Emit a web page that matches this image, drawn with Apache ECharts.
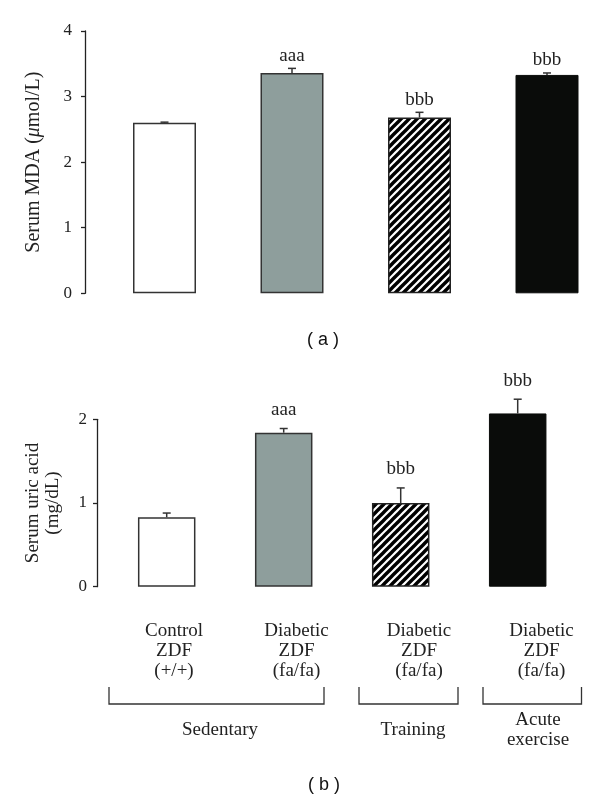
<!DOCTYPE html>
<html>
<head>
<meta charset="utf-8">
<script src="https://cdn.jsdelivr.net/npm/echarts@6/dist/echarts.min.js"></script>
<style>html,body{margin:0;padding:0;background:#fff}#c{width:600px;height:801px}</style>
</head>
<body>
<div id="c"></div>
<script>
var categories = ['Control\nZDF\n(+/+)', 'Diabetic\nZDF\n(fa/fa)', 'Diabetic\nZDF\n(fa/fa)', 'Diabetic\nZDF\n(fa/fa)'];
var groups = ['Sedentary', 'Training', 'Acute\nexercise'];
var mdaValues = [2.60, 3.36, 2.68, 3.33];
var mdaErrors = [0.01, 0.07, 0.08, 0.03];
var mdaNotes = ['', 'aaa', 'bbb', 'bbb'];
var uricValues = [0.83, 1.84, 1.00, 2.07];
var uricErrors = [0.05, 0.05, 0.18, 0.17];
var uricNotes = ['', 'aaa', 'bbb', 'bbb'];
var mdaTicks = [0, 1, 2, 3, 4];
var uricTicks = [0, 1, 2];

var SERIF = '"Liberation Serif", "DejaVu Serif", serif';
var SANS = '"Liberation Sans", Arial, sans-serif';

// hatch pattern
var tile = document.createElement('canvas');
tile.width = 8; tile.height = 8;
var g = tile.getContext('2d');
g.fillStyle = '#fff'; g.fillRect(0, 0, 8, 8);
g.strokeStyle = '#000'; g.lineWidth = 3.4; g.lineCap = 'square';
[[0, 8, 8, 0], [-4, 4, 4, -4], [4, 12, 12, 4]].forEach(function (l) {
  g.beginPath(); g.moveTo(l[0], l[1]); g.lineTo(l[2], l[3]); g.stroke();
});

var fills = [
  { color: '#ffffff', borderColor: '#333', borderWidth: 1.5 },
  { color: '#8e9e9c', borderColor: '#333', borderWidth: 1.5 },
  { color: { image: tile, repeat: 'repeat' }, borderColor: '#222', borderWidth: 1.5 },
  { color: '#0a0c0a', borderColor: '#0a0c0a', borderWidth: 1 }
];

function barData(vals) {
  return vals.map(function (v, i) { return { value: v, itemStyle: fills[i] }; });
}
function errData(vals, errs) {
  return vals.map(function (v, i) { return [i, v, errs[i]]; });
}
function errRender(notes, gap) {
  return function (params, api) {
    var x = api.value(0), v = api.value(1), e = api.value(2);
    var b = api.coord([x, v]);
    var t = api.coord([x, v + e]);
    var cap = 4;
    var st = { stroke: '#333', lineWidth: 1.5 };
    return {
      type: 'group', children: [
        { type: 'line', shape: { x1: b[0], y1: b[1], x2: t[0], y2: t[1] }, style: st },
        { type: 'line', shape: { x1: t[0] - cap, y1: t[1], x2: t[0] + cap, y2: t[1] }, style: st },
        { type: 'text', style: { text: notes[params.dataIndex], x: t[0], y: t[1] - gap, align: 'center', verticalAlign: 'bottom', font: '19px ' + SERIF, fill: '#222' } }
      ]
    };
  };
}

function yAxisBase(margin) {
  return {
    type: 'value', interval: 1,
    axisLine: { show: true, lineStyle: { color: '#222', width: 1.3 } },
    axisTick: { show: true, length: 4, lineStyle: { color: '#222', width: 1.3 } },
    axisLabel: { color: '#222', fontFamily: SERIF, fontSize: 17, margin: margin },
    splitLine: { show: false },
    nameLocation: 'middle'
  };
}

var chart = echarts.init(document.getElementById('c'), null, { renderer: 'canvas' });
chart.setOption({
  backgroundColor: '#fff',
  animation: false,
  grid: [
    { left: 164.5, width: 382.5, top: 31, height: 262.3 },
    { left: 166.7, width: 351, top: 419.3, height: 167.4 },
    { left: 174, width: 367.5, top: 419.3, height: 167.4 }
  ],
  xAxis: [
    { type: 'category', gridIndex: 0, data: categories, boundaryGap: false, show: false },
    { type: 'category', gridIndex: 1, data: categories, boundaryGap: false, show: false },
    { type: 'category', gridIndex: 2, data: categories, boundaryGap: false,
      axisLine: { show: false }, axisTick: { show: false },
      axisLabel: { color: '#222', fontFamily: SERIF, fontSize: 19, lineHeight: 20, margin: 34, interval: 0 } }
  ],
  yAxis: [
    Object.assign(yAxisBase(13), { gridIndex: 0, min: mdaTicks[0], max: mdaTicks[mdaTicks.length - 1], offset: 79.5,
      name: '{n|Serum MDA (}{i|\u03bc}{n|mol/L)}', nameGap: 41,
      nameTextStyle: { rich: {
        n: { color: '#222', fontFamily: SERIF, fontSize: 20 },
        i: { color: '#222', fontFamily: SERIF, fontSize: 20, fontStyle: 'italic' } } } }),
    Object.assign(yAxisBase(10), { gridIndex: 1, min: uricTicks[0], max: uricTicks[uricTicks.length - 1], offset: 69.7,
      name: 'Serum uric acid\n(mg/dL)', nameGap: 34,
      nameTextStyle: { color: '#222', fontFamily: SERIF, fontSize: 19, lineHeight: 20 } }),
    { type: 'value', gridIndex: 2, min: 0, max: 2, show: false }
  ],
  series: [
    { type: 'bar', xAxisIndex: 0, yAxisIndex: 0, barWidth: 63, clip: false, data: barData(mdaValues) },
    { type: 'custom', xAxisIndex: 0, yAxisIndex: 0, clip: false, z: 5, renderItem: errRender(mdaNotes, 3), data: errData(mdaValues, mdaErrors) },
    { type: 'bar', xAxisIndex: 1, yAxisIndex: 1, barWidth: 57.5, clip: false, data: barData(uricValues) },
    { type: 'custom', xAxisIndex: 1, yAxisIndex: 1, clip: false, z: 5, renderItem: errRender(uricNotes, 9), data: errData(uricValues, uricErrors) }
  ],
  graphic: [
    { type: 'polyline', shape: { points: [[109, 687], [109, 704], [324, 704], [324, 687]] }, style: { stroke: '#333', lineWidth: 1.3, fill: null } },
    { type: 'polyline', shape: { points: [[359, 687], [359, 704], [458, 704], [458, 687]] }, style: { stroke: '#333', lineWidth: 1.3, fill: null } },
    { type: 'polyline', shape: { points: [[483, 687], [483, 704], [581.5, 704], [581.5, 687]] }, style: { stroke: '#333', lineWidth: 1.3, fill: null } },
    { type: 'text', x: 220, y: 730, style: { text: groups[0], align: 'center', verticalAlign: 'middle', font: '19px ' + SERIF, fill: '#222' } },
    { type: 'text', x: 413, y: 730, style: { text: groups[1], align: 'center', verticalAlign: 'middle', font: '19px ' + SERIF, fill: '#222' } },
    { type: 'text', x: 538, y: 730, style: { text: groups[2], align: 'center', verticalAlign: 'middle', font: '19px ' + SERIF, lineHeight: 20, fill: '#222' } },
    { type: 'text', x: 323, y: 340, style: { text: '( a )', align: 'center', verticalAlign: 'middle', font: '18px ' + SANS, fill: '#111' } },
    { type: 'text', x: 324, y: 785, style: { text: '( b )', align: 'center', verticalAlign: 'middle', font: '18px ' + SANS, fill: '#111' } }
  ]
});
</script>
</body>
</html>
